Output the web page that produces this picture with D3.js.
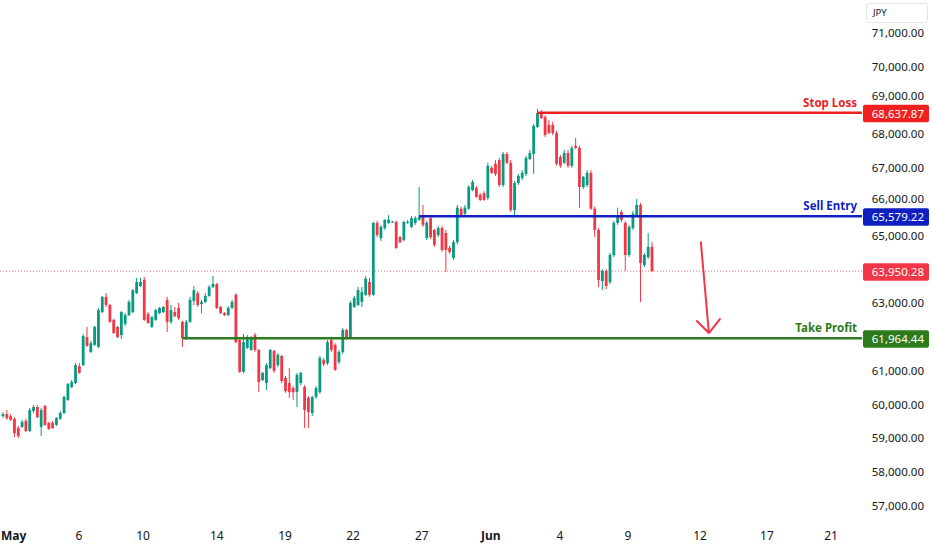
<!DOCTYPE html>
<html>
<head>
<meta charset="utf-8">
<script src="https://cdn.jsdelivr.net/npm/d3@7"></script>
<style>
  html, body { margin: 0; padding: 0; background: #fff; }
  svg { display: block; font-family: "Noto Sans", sans-serif; }
</style>
</head>
<body>
<svg id="chart" width="932" height="550"></svg>
<script>
// candles: [open, high, low, close] in JPY
const candles = [
  [59660, 59780, 59600, 59720], [59720, 59840, 59550, 59600], [59660, 59720, 59520, 59550],
  [59580, 59630, 59040, 59160], [59310, 59370, 59010, 59070], [59340, 59550, 59310, 59490],
  [59520, 59580, 59190, 59220], [59220, 59900, 59190, 59840], [59810, 59990, 59750, 59930],
  [59930, 59990, 59600, 59630], [59340, 59900, 59070, 59840], [59960, 59990, 59370, 59400],
  [59460, 59490, 59250, 59280], [59460, 59520, 59280, 59310], [59400, 59630, 59370, 59600],
  [59580, 59810, 59550, 59750], [59750, 60260, 59720, 60230], [60140, 60640, 60110, 60610],
  [60520, 60730, 60490, 60670], [60640, 61230, 60610, 61170], [61140, 61230, 60910, 60940],
  [61170, 62090, 61140, 62030], [62000, 62300, 61710, 61740], [61560, 61880, 61530, 61820],
  [61770, 62330, 61740, 62300], [61710, 62860, 61680, 62800], [62740, 63220, 62710, 63190],
  [63190, 63300, 62890, 62950], [62950, 62980, 62420, 62450], [62510, 62540, 62090, 62120],
  [62300, 62330, 61970, 62000], [62060, 62770, 61940, 62740], [62390, 62710, 62330, 62650],
  [62650, 63100, 62620, 63040], [62740, 63420, 62710, 63390], [63300, 63750, 63270, 63630],
  [63510, 63750, 63480, 63630], [63690, 63780, 62480, 62510], [62680, 62740, 62390, 62420],
  [62300, 62620, 62270, 62590], [62510, 62830, 62480, 62800], [62710, 62890, 62680, 62860],
  [62740, 62920, 62710, 62890], [63100, 63190, 62150, 62450], [62450, 62950, 62390, 62800],
  [62740, 62890, 62590, 62620], [62860, 63010, 62510, 62560], [62450, 62480, 61710, 61970],
  [61970, 62510, 61910, 62450], [62450, 63190, 62420, 63100], [63070, 63510, 62950, 63390],
  [63300, 63360, 62890, 62950], [62980, 63100, 62710, 63040], [63040, 63300, 63010, 63220],
  [63220, 63540, 63190, 63480], [63480, 63810, 63450, 63570], [63570, 63600, 62830, 62860],
  [62890, 62920, 62680, 62710], [62710, 62740, 62620, 62650], [62650, 62920, 62620, 62860],
  [62860, 63100, 62830, 63040], [63250, 63300, 61820, 61850], [61910, 61970, 60940, 60970],
  [60970, 62090, 60940, 61850], [61680, 62060, 61650, 62000], [61620, 62030, 61590, 62000],
  [62060, 62120, 61560, 61620], [61620, 61650, 60370, 60670], [60730, 60970, 60700, 60940],
  [60640, 61230, 60430, 61170], [61080, 61650, 61050, 61620], [61590, 61620, 60940, 61000],
  [61170, 61530, 61110, 61470], [61440, 61470, 60640, 60700], [60790, 60850, 60350, 60400],
  [60640, 61080, 60200, 60370], [60490, 60550, 60140, 60370], [60370, 60940, 59930, 60880],
  [60640, 60970, 60580, 60940], [60520, 60580, 59310, 59840], [60200, 60260, 59310, 59780],
  [59750, 60260, 59660, 60230], [60230, 60550, 60170, 60490], [60370, 61440, 60320, 61380],
  [61320, 61380, 61140, 61200], [61230, 61910, 61170, 61850], [61910, 62000, 61560, 61620],
  [61770, 61820, 61000, 61030], [61260, 61620, 61200, 61560], [61560, 62270, 61500, 62210],
  [62210, 62240, 61910, 61970], [62000, 63070, 61940, 63010], [62890, 63220, 62860, 63160],
  [62950, 63480, 62920, 63390], [63040, 63480, 62890, 63330], [63250, 63810, 63220, 63730],
  [63630, 63750, 63190, 63250], [63250, 65410, 63220, 65380], [65380, 65440, 64960, 65020],
  [64930, 65320, 64840, 65260], [65230, 65490, 65170, 65470], [65380, 65610, 65350, 65470],
  [65410, 65440, 65380, 65420], [65410, 65440, 64610, 64640], [64960, 64990, 64780, 64810],
  [64870, 65440, 64840, 65410], [65390, 65470, 65350, 65410], [65260, 65580, 65230, 65520],
  [65380, 65580, 65320, 65520], [65470, 66440, 65440, 65550], [65550, 65910, 65260, 65320],
  [64930, 65440, 64870, 65380], [65520, 65580, 64900, 64960], [65170, 65200, 64670, 64730],
  [65020, 65290, 64960, 65230], [65230, 65290, 64520, 64580], [65080, 65170, 63930, 64580],
  [64640, 64700, 64460, 64520], [64340, 64870, 64280, 64810], [64810, 65910, 64750, 65830],
  [65800, 65860, 65580, 65610], [65650, 65910, 65610, 65830], [65800, 66500, 65770, 66440],
  [66350, 66650, 66320, 66590], [66410, 66470, 66120, 66150], [66210, 66260, 66030, 66060],
  [66260, 66320, 66030, 66060], [66120, 67160, 66060, 67070], [67010, 67070, 66830, 66860],
  [67130, 67240, 66770, 66830], [67240, 67300, 66440, 66500], [66500, 67480, 66440, 67420],
  [67420, 67480, 67120, 67160], [67160, 67240, 65700, 65760], [65760, 66620, 65550, 66560],
  [66560, 66830, 66500, 66770], [66710, 66940, 66650, 66860], [66830, 67360, 66770, 67300],
  [67270, 67540, 67240, 67450], [67420, 68310, 66830, 68250], [68220, 68750, 68190, 68630],
  [68630, 68720, 68460, 68480], [68510, 68570, 67920, 67980], [68280, 68430, 68010, 68040],
  [68280, 68370, 67980, 68040], [68040, 68100, 67070, 67130], [67330, 67390, 67010, 67070],
  [67160, 67540, 67120, 67450], [67450, 67540, 67010, 67070], [67070, 67660, 67010, 67600],
  [67660, 67890, 67570, 67600], [67600, 67660, 65830, 66440], [66440, 66770, 66380, 66740],
  [66500, 66940, 66440, 66860], [66860, 66940, 65760, 65800], [65800, 65860, 64960, 65170],
  [65170, 65230, 63480, 63690], [63660, 64010, 63390, 63960], [63960, 64010, 63420, 63510],
  [63630, 64490, 63570, 64430], [64430, 65440, 64370, 65380], [65380, 65830, 65320, 65550],
  [65700, 65760, 65410, 65470], [65380, 65440, 63960, 64430], [64430, 65320, 64370, 65260],
  [65230, 65730, 65170, 65650], [65610, 66090, 65580, 65910], [65910, 65970, 63040, 64190],
  [64130, 64490, 64070, 64430], [64370, 65080, 64310, 64670], [64670, 64810, 63920, 63950.28],
];

// price axis
const priceTicks = d3.range(57000, 71001, 1000);
const currency = 'JPY';

// time axis: label and the bar it sits on
const dateLabels = ['May', '6', '10', '14', '19', '22', '27', 'Jun', '4', '9', '12', '17', '21'];
const dateBars = [2, 19.9, 36.7, 56, 73.9, 91.7, 109.7, 127.8, 145.9, 163.7, 182.6, 200.1, 216.9];
const monthLabels = ['May', 'Jun'];

// trade levels
const levelNames = ['Stop Loss', 'Sell Entry', 'Take Profit'];
const levelPrices = [68637.87, 65579.22, 61964.44];
const levelStartBars = [140, 109, 47];
const lastPrice = 63950.28;

// projected move
const arrowBars = [182.8, 184.9];
const arrowPrices = [64810, 62120];

const colours = {
  up: '#089981',
  down: '#f23645',
  levels: ['#ee2120', '#0f1fc0', '#2e7b1e'],
  last: '#f23645',
  text: '#131722',
};

const width = 932;
const height = 550;
const plotRight = 862;

const x = d3.scaleLinear().domain([0, candles.length - 1]).range([3, 652]);
const y = d3.scaleLinear().domain([57000, 71000]).range([506, 33]);

const svg = d3.select('#chart');
svg.append('rect').attr('width', width).attr('height', height).attr('fill', '#fff');

svg.append('clipPath').attr('id', 'plot-clip')
  .append('rect').attr('width', plotRight).attr('height', height);

const plot = svg.append('g').attr('clip-path', 'url(#plot-clip)');

// last price dotted line
plot.append('line')
  .attr('x1', 0).attr('x2', plotRight)
  .attr('y1', y(lastPrice)).attr('y2', y(lastPrice))
  .attr('stroke', colours.last)
  .attr('stroke-opacity', 0.7)
  .attr('stroke-width', 1)
  .attr('stroke-dasharray', '1,2');

// candles
const candle = plot.append('g').attr('class', 'candles')
  .selectAll('g')
  .data(candles)
  .join('g')
  .attr('fill', (d) => (d[3] >= d[0] ? colours.up : colours.down))
  .attr('stroke', (d) => (d[3] >= d[0] ? colours.up : colours.down));

candle.append('line')
  .attr('x1', (d, i) => x(i)).attr('x2', (d, i) => x(i))
  .attr('y1', (d) => y(d[1])).attr('y2', (d) => y(d[2]))
  .attr('stroke-width', 1);

candle.append('rect')
  .attr('x', (d, i) => x(i) - 1.4)
  .attr('width', 2.8)
  .attr('y', (d) => y(Math.max(d[0], d[3])))
  .attr('height', (d) => Math.max(1, Math.abs(y(d[0]) - y(d[3]))))
  .attr('stroke', 'none');

// trade levels
levelPrices.forEach((p, i) => {
  plot.append('line')
    .attr('x1', x(levelStartBars[i])).attr('x2', plotRight)
    .attr('y1', y(p)).attr('y2', y(p))
    .attr('stroke', colours.levels[i])
    .attr('stroke-width', 2.5);
  plot.append('text')
    .attr('x', plotRight - 5)
    .attr('y', y(p) - 6)
    .attr('text-anchor', 'end')
    .style('font-size', '11.5px')
    .style('font-weight', '700')
    .attr('fill', colours.levels[i])
    .text(levelNames[i]);
});

// arrow
const ax0 = x(arrowBars[0]);
const ay0 = y(arrowPrices[0]);
const ax1 = x(arrowBars[1]);
const ay1 = y(arrowPrices[1]);
plot.append('path')
  .attr('d', `M${ax0},${ay0}L${ax1},${ay1}M${ax1 - 12},${ay1 - 12}L${ax1},${ay1}L${ax1 + 11},${ay1 - 14}`)
  .attr('fill', 'none')
  .attr('stroke', colours.last)
  .attr('stroke-width', 2)
  .attr('stroke-linecap', 'round')
  .attr('stroke-linejoin', 'round');

// price scale: ticks hidden behind a price box, nudged off one that they touch
const boxPrices = levelPrices.concat([lastPrice]);
const boxColours = colours.levels.concat([colours.last]);

const tickY = (t) => {
  let ty = y(t);
  boxPrices.forEach((p) => {
    const gap = ty - y(p);
    if (Math.abs(gap) < 17) ty = y(p) + Math.sign(gap) * 17;
  });
  return ty;
};

svg.append('g').attr('class', 'y-labels')
  .selectAll('text')
  .data(priceTicks.filter((t) => boxPrices.every((p) => Math.abs(y(t) - y(p)) > 12)))
  .join('text')
  .attr('x', 924)
  .attr('y', (d) => tickY(d))
  .attr('dy', '0.35em')
  .attr('text-anchor', 'end')
  .style('font-size', '11.5px')
  .attr('fill', colours.text)
  .text((d) => d3.format(',.2f')(d));

boxPrices.forEach((p, i) => {
  svg.append('rect')
    .attr('x', 863).attr('width', 66)
    .attr('y', y(p) - 8).attr('height', 17.5)
    .attr('rx', 2)
    .attr('fill', boxColours[i]);
  svg.append('text')
    .attr('x', 924)
    .attr('y', y(p) + 0.8)
    .attr('dy', '0.35em')
    .attr('text-anchor', 'end')
    .style('font-size', '11.5px')
    .attr('fill', '#fff')
    .text(d3.format(',.2f')(p));
});

// currency tag
svg.append('rect')
  .attr('x', 866.5).attr('y', 3.5)
  .attr('width', 61).attr('height', 19)
  .attr('rx', 3)
  .attr('fill', '#fff')
  .attr('stroke', '#e0e3eb');
svg.append('text')
  .attr('x', 873).attr('y', 13)
  .attr('dy', '0.35em')
  .style('font-size', '9.5px')
  .attr('fill', colours.text)
  .text(currency);

// time scale, first label kept inside the left edge like the platform does
svg.append('g').attr('class', 'x-labels')
  .selectAll('text')
  .data(dateLabels)
  .join('text')
  .attr('x', (d, i) => x(dateBars[i]))
  .attr('y', 536)
  .attr('dy', '0.35em')
  .attr('text-anchor', 'middle')
  .style('font-size', '12px')
  .style('font-weight', (d) => (monthLabels.includes(d) ? '700' : '400'))
  .attr('fill', colours.text)
  .text((d) => d)
  .each((d, i, n) => {
    const half = n[i].getComputedTextLength() / 2;
    const cx = x(dateBars[i]);
    if (cx - half < 1) d3.select(n[i]).attr('x', 1 + half);
  });
</script>
</body>
</html>
